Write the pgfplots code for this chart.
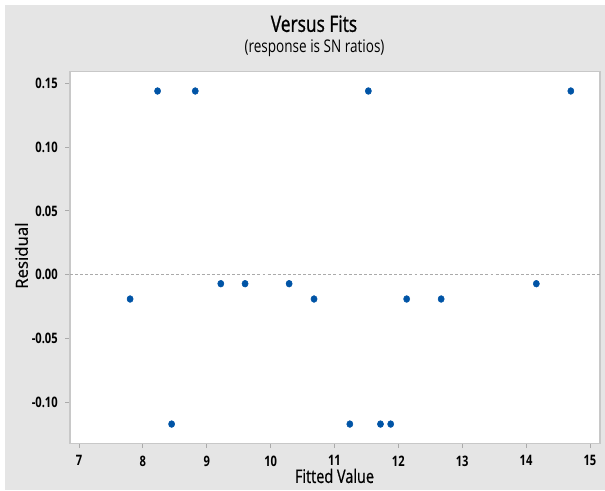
\documentclass[border=0pt]{standalone}
\usepackage{fontspec}
\setmainfont{Open Sans}[FakeStretch=0.775]
\newfontfamily\semib{Open Sans}[FakeStretch=0.775,FakeBold=1]
\newfontfamily\medium{Open Sans}[FakeStretch=0.775,FakeBold=0.6]
\newfontfamily\mediumrot{Open Sans}[FakeBold=0.5]
\usepackage{pgfplots}
\pgfplotsset{compat=1.18}
\definecolor{bggray}{RGB}{229,229,229}
\definecolor{fitblue}{RGB}{0,84,166}
\definecolor{framegray}{RGB}{200,200,200}
\definecolor{tickgray}{RGB}{170,170,170}
\begin{document}
\begin{tikzpicture}
\useasboundingbox (-52.5pt,-35pt) rectangle (401.25pt,332.5pt);
\fill[bggray] (-48.75pt,-35pt) rectangle (401.25pt,328.7pt);
\begin{axis}[at={(0,0)},anchor=south west,scale only axis,
width=397.5pt,height=278.7pt,
xmin=6.859,xmax=15.157,ymin=-0.1321,ymax=0.1591,
axis background/.style={fill=white},
axis line style={framegray,line width=0.8pt},
xtick={7,...,15},ytick={-0.10,-0.05,0,0.05,0.10,0.15},
tick align=outside,xtick pos=bottom,ytick pos=left,
major tick length=3.5pt,
tick style={tickgray,line width=0.7pt},
/pgf/number format/assume math mode=true,
tick label style={font=\fontsize{10.8}{12}\selectfont\bfseries,inner sep=0pt},
yticklabel style={/pgf/number format/.cd,fixed,fixed zerofill,precision=2,/tikz/.cd,anchor=east,xshift=-5.5pt},
xticklabel style={anchor=north,yshift=-5.5pt},
xlabel={Fitted Value},
xlabel style={at={(axis description cs:0.499,-0.0877)},anchor=center,inner sep=0pt,
  font=\medium\fontsize{14}{15}\selectfont},
ylabel={Residual},
ylabel style={at={(axis description cs:-0.0915,0.505)},anchor=center,inner sep=0pt,
  font=\mediumrot\fontsize{12.6}{14}\selectfont},
]
\addplot[tickgray,dashed,dash pattern=on 2.2pt off 1.6pt,line width=0.6pt] coordinates {(6.859,0) (15.157,0)};
\addplot[only marks,mark=*,mark size=2.3pt,fitblue,mark options={fill=fitblue,draw=fitblue,yscale=1.1}] coordinates {
(7.80,-0.019) (8.23,0.144) (8.45,-0.117) (8.82,0.144) (9.22,-0.007) (9.60,-0.007)
(10.29,-0.007) (10.68,-0.019) (11.24,-0.117) (11.53,0.144) (11.72,-0.117) (11.88,-0.117)
(12.13,-0.019) (12.67,-0.019) (14.16,-0.007) (14.70,0.144)};
\end{axis}
\node[inner sep=0pt,font=\semib\fontsize{16.8}{18}\selectfont] at (183pt,314.7pt) {Versus Fits};
\node[inner sep=0pt,font=\fontsize{13.1}{14}\selectfont] at (183.4pt,296.25pt) {(response is SN ratios)};
\end{tikzpicture}
\end{document}
